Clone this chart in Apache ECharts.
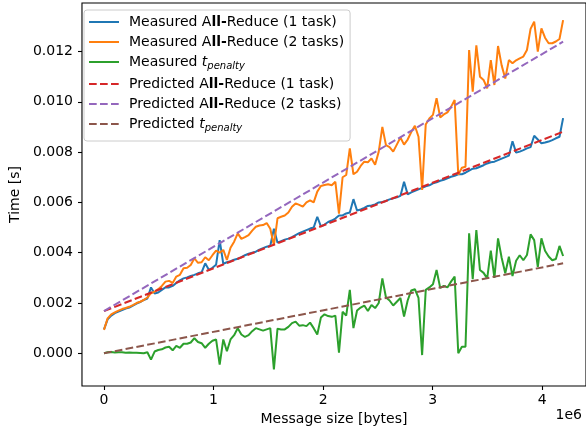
<!DOCTYPE html>
<html>
<head>
<meta charset="utf-8">
<script src="https://cdn.jsdelivr.net/npm/echarts@6/dist/echarts.min.js"></script>
<style>
  html, body { margin: 0; padding: 0; background: #fff; }
  #chart { width: 586px; height: 431px; }
</style>
</head>
<body>
<div id="chart"></div>
<script>
// message sizes [bytes]
const SIZES = [
  0, 33000, 66000, 99000, 132000, 165000, 198000, 231000, 264000, 297000,
  330000, 363000, 396000, 429000, 462000, 495000, 528000, 561000, 594000, 627000,
  660000, 693000, 726000, 759000, 792000, 825000, 858000, 891000, 924000, 957000,
  990000, 1023000, 1056000, 1089000, 1122000, 1155000, 1188000, 1221000, 1254000, 1287000,
  1320000, 1353000, 1386000, 1419000, 1452000, 1485000, 1518000, 1551000, 1584000, 1617000,
  1650000, 1683000, 1716000, 1749000, 1782000, 1815000, 1848000, 1881000, 1914000, 1947000,
  1980000, 2013000, 2046000, 2079000, 2112000, 2145000, 2178000, 2211000, 2244000, 2277000,
  2310000, 2343000, 2376000, 2409000, 2442000, 2475000, 2508000, 2541000, 2574000, 2607000,
  2640000, 2673000, 2706000, 2739000, 2772000, 2805000, 2838000, 2871000, 2904000, 2937000,
  2970000, 3003000, 3036000, 3069000, 3102000, 3135000, 3168000, 3201000, 3234000, 3267000,
  3300000, 3333000, 3366000, 3399000, 3432000, 3465000, 3498000, 3531000, 3564000, 3597000,
  3630000, 3663000, 3696000, 3729000, 3762000, 3795000, 3828000, 3861000, 3894000, 3927000,
  3960000, 3993000, 4026000, 4059000, 4092000, 4125000, 4158000, 4191000
];

// measured times [s]
const MEAS_1 = [
  0.00095, 0.00135, 0.00150, 0.00160, 0.00166, 0.00172, 0.00178, 0.00182, 0.00190, 0.00198,
  0.00204, 0.00212, 0.00218, 0.00262, 0.00238, 0.00242, 0.00252, 0.00262, 0.00262, 0.00268,
  0.00280, 0.00290, 0.00298, 0.00302, 0.00308, 0.00312, 0.00318, 0.00322, 0.00358, 0.00332,
  0.00340, 0.00352, 0.00450, 0.00356, 0.00362, 0.00366, 0.00372, 0.00376, 0.00382, 0.00390,
  0.00396, 0.00400, 0.00404, 0.00412, 0.00418, 0.00424, 0.00428, 0.00495, 0.00440, 0.00446,
  0.00452, 0.00456, 0.00462, 0.00470, 0.00478, 0.00484, 0.00490, 0.00496, 0.00500, 0.00543,
  0.00505, 0.00512, 0.00522, 0.00528, 0.00536, 0.00548, 0.00548, 0.00556, 0.00560, 0.00613,
  0.00568, 0.00572, 0.00578, 0.00586, 0.00588, 0.00592, 0.00600, 0.00602, 0.00606, 0.00612,
  0.00616, 0.00620, 0.00626, 0.00682, 0.00632, 0.00640, 0.00646, 0.00652, 0.00658, 0.00664,
  0.00668, 0.00676, 0.00680, 0.00686, 0.00690, 0.00696, 0.00702, 0.00706, 0.00712, 0.00712,
  0.00718, 0.00726, 0.00734, 0.00736, 0.00742, 0.00748, 0.00755, 0.00760, 0.00762, 0.00768,
  0.00774, 0.00780, 0.00786, 0.00843, 0.00798, 0.00802, 0.00808, 0.00815, 0.00820, 0.00865,
  0.00850, 0.00835, 0.00838, 0.00842, 0.00848, 0.00855, 0.00861, 0.00935
];
const MEAS_2 = [
  0.00093, 0.00139, 0.00155, 0.00163, 0.00170, 0.00176, 0.00180, 0.00185, 0.00192, 0.00200,
  0.00205, 0.00212, 0.00222, 0.00239, 0.00245, 0.00255, 0.00268, 0.00285, 0.00288, 0.00280,
  0.00305, 0.00312, 0.00338, 0.00340, 0.00351, 0.00378, 0.00360, 0.00362, 0.00382, 0.00370,
  0.00390, 0.00408, 0.00400, 0.00411, 0.00371, 0.00420, 0.00444, 0.00477, 0.00455, 0.00462,
  0.00470, 0.00488, 0.00503, 0.00508, 0.00510, 0.00518, 0.00495, 0.00430, 0.00537, 0.00543,
  0.00548, 0.00560, 0.00583, 0.00596, 0.00590, 0.00583, 0.00600, 0.00608, 0.00600, 0.00643,
  0.00665, 0.00669, 0.00672, 0.00668, 0.00682, 0.00555, 0.00700, 0.00709, 0.00815, 0.00712,
  0.00722, 0.00745, 0.00762, 0.00760, 0.00775, 0.00750, 0.00802, 0.00900, 0.00828, 0.00820,
  0.00802, 0.00830, 0.00858, 0.00830, 0.00850, 0.00880, 0.00905, 0.00861, 0.00650, 0.00910,
  0.00934, 0.00948, 0.01014, 0.00938, 0.00950, 0.00958, 0.00980, 0.01007, 0.00710, 0.00738,
  0.00742, 0.01206, 0.01040, 0.01225, 0.01100, 0.01087, 0.01054, 0.01166, 0.01067, 0.01222,
  0.01145, 0.01093, 0.01166, 0.01153, 0.01165, 0.01173, 0.01180, 0.01206, 0.01290, 0.01319,
  0.01200, 0.01292, 0.01255, 0.01233, 0.01233, 0.01240, 0.01250, 0.01325
];
const MEAS_PEN = [
  0.00000, 0.00004, 0.00005, 0.00003, 0.00004, 0.00004, 0.00002, 0.00003, 0.00002, 0.00002,
  0.00001, 0.00000, 0.00004, -0.00025, 0.00007, 0.00013, 0.00016, 0.00023, 0.00026, 0.00012,
  0.00030, 0.00022, 0.00038, 0.00038, 0.00043, 0.00060, 0.00045, 0.00040, 0.00022, 0.00038,
  0.00050, 0.00055, -0.00045, 0.00055, 0.00008, 0.00055, 0.00072, 0.00100, 0.00075, 0.00065,
  0.00072, 0.00088, 0.00100, 0.00095, 0.00090, 0.00095, 0.00100, -0.00064, 0.00098, 0.00095,
  0.00095, 0.00105, 0.00120, 0.00126, 0.00110, 0.00112, 0.00108, 0.00122, 0.00100, 0.00075,
  0.00142, 0.00155, 0.00148, 0.00145, 0.00150, 0.00003, 0.00165, 0.00150, 0.00252, 0.00100,
  0.00170, 0.00182, 0.00190, 0.00168, 0.00192, 0.00180, 0.00200, 0.00298, 0.00222, 0.00210,
  0.00190, 0.00205, 0.00220, 0.00146, 0.00210, 0.00250, 0.00255, 0.00220, -0.00007, 0.00252,
  0.00262, 0.00275, 0.00331, 0.00260, 0.00268, 0.00262, 0.00285, 0.00305, 0.00000, 0.00026,
  0.00026, 0.00477, 0.00295, 0.00490, 0.00331, 0.00320, 0.00298, 0.00408, 0.00300, 0.00457,
  0.00380, 0.00318, 0.00384, 0.00307, 0.00368, 0.00390, 0.00370, 0.00391, 0.00473, 0.00450,
  0.00344, 0.00457, 0.00408, 0.00385, 0.00370, 0.00375, 0.00427, 0.00387
];

// model predictions (straight lines)
const PRED_X = [0, 4191000];
const PRED_1 = [0.00168, 0.00881];
const PRED_2 = [0.00168, 0.01239];
const PRED_PEN = [0.0, 0.00358];

const X_TICKS = [0, 1e6, 2e6, 3e6, 4e6];
const Y_TICKS = [0, 0.002, 0.004, 0.006, 0.008, 0.010, 0.012];

const FONT = '"DejaVu Sans", sans-serif';
const C = {
  blue: '#1f77b4', orange: '#ff7f0e', green: '#2ca02c',
  red: '#d62728', purple: '#9467bd', brown: '#8c564b'
};
const DASH = [7.7, 3.3];

function pairs(xs, ys) { return xs.map((x, i) => [x, ys[i]]); }

function lineSeries(name, xs, ys, color, dashed) {
  return {
    name: name,
    type: 'line',
    data: pairs(xs, ys),
    symbol: 'none',
    smooth: false,
    lineStyle: { color: color, width: 2, type: dashed ? DASH : 'solid' },
    itemStyle: { color: color },
    emphasis: { disabled: true }
  };
}

const names = [
  'Measured All-Reduce (1 task)',
  'Measured All-Reduce (2 tasks)',
  'Measured t_penalty',
  'Predicted All-Reduce (1 task)',
  'Predicted All-Reduce (2 tasks)',
  'Predicted t_penalty'
];

function legendLabel(name) {
  if (name.indexOf('t_penalty') >= 0) {
    return '{n|' + name.split(' ')[0] + ' }{t|t}{s|penalty}';
  }
  const i = name.indexOf('All-');
  return '{n|' + name.slice(0, i + 1) + '}{b|ll-}{n|' + name.slice(i + 4) + '}';
}

const tickStyle = { color: '#000', width: 1.1 };

const chart = echarts.init(document.getElementById('chart'), null, { renderer: 'canvas' });
chart.setOption({
  animation: false,
  backgroundColor: '#fff',
  textStyle: { fontFamily: FONT, color: '#000' },
  grid: {
    left: 77, right: -1, top: 3, bottom: 45,
    show: true, borderColor: '#000', borderWidth: 1.1, backgroundColor: 'transparent'
  },
  xAxis: {
    type: 'value',
    min: -201000,
    max: 4400000,
    name: 'Message size [bytes]',
    nameLocation: 'middle',
    nameGap: 24,
    nameTextStyle: { fontFamily: FONT, fontSize: 14, color: '#000' },
    axisLine: { show: false, onZero: false },
    splitLine: { show: false },
    axisTick: { show: true, customValues: X_TICKS, length: 4, lineStyle: tickStyle },
    axisLabel: {
      customValues: X_TICKS,
      formatter: v => String(Math.round(v / 1e6)),
      fontFamily: FONT, fontSize: 14, color: '#000', margin: 7
    }
  },
  yAxis: {
    type: 'value',
    min: -0.0013,
    max: 0.01393,
    name: 'Time [s]',
    nameLocation: 'middle',
    nameGap: 52,
    nameTextStyle: { fontFamily: FONT, fontSize: 14, color: '#000' },
    axisLine: { show: false, onZero: false },
    splitLine: { show: false },
    axisTick: { show: true, customValues: Y_TICKS, length: 4, lineStyle: tickStyle },
    axisLabel: {
      customValues: Y_TICKS,
      formatter: v => v.toFixed(3),
      fontFamily: FONT, fontSize: 14, color: '#000', margin: 9
    }
  },
  legend: {
    data: names,
    orient: 'vertical',
    left: 84,
    top: 10,
    padding: [5, 6, 8, 4],
    itemGap: 6,
    itemWidth: 30,
    itemHeight: 14,
    itemStyle: { opacity: 0 },
    backgroundColor: 'rgba(255,255,255,0.8)',
    borderColor: '#cccccc',
    borderWidth: 1,
    borderRadius: 3,
    selectedMode: false,
    formatter: legendLabel,
    textStyle: {
      fontFamily: FONT, fontSize: 14, color: '#000',
      padding: [0, 0, 0, 5],
      rich: {
        n: { fontFamily: FONT, fontSize: 14, color: '#000', lineHeight: 14, verticalAlign: 'top' },
        b: { fontFamily: FONT, fontSize: 14, color: '#000', fontWeight: 'bold', lineHeight: 14, verticalAlign: 'top' },
        t: { fontFamily: FONT, fontSize: 14, color: '#000', fontStyle: 'italic', lineHeight: 14, verticalAlign: 'top' },
        s: { fontFamily: FONT, fontSize: 10, color: '#000', fontStyle: 'italic', lineHeight: 10, verticalAlign: 'top', padding: [6, 0, 0, 0] }
      }
    }
  },
  graphic: [{
    type: 'text',
    right: 4,
    top: 408,
    style: { text: '1e6', fontFamily: FONT, fontSize: 14, fill: '#000' }
  }],
  series: [
    lineSeries(names[0], SIZES, MEAS_1, C.blue, false),
    lineSeries(names[1], SIZES, MEAS_2, C.orange, false),
    lineSeries(names[2], SIZES, MEAS_PEN, C.green, false),
    lineSeries(names[3], PRED_X, PRED_1, C.red, true),
    lineSeries(names[4], PRED_X, PRED_2, C.purple, true),
    lineSeries(names[5], PRED_X, PRED_PEN, C.brown, true)
  ]
});
</script>
</body>
</html>
